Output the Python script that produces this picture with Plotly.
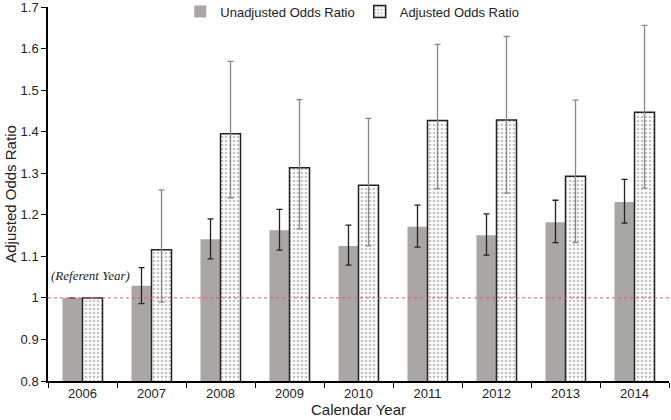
import plotly.graph_objects as go

years = ["2006", "2007", "2008", "2009", "2010", "2011", "2012", "2013", "2014"]
unadj = [1.0, 1.029, 1.141, 1.163, 1.125, 1.171, 1.151, 1.182, 1.231]
unadj_lo = [1.0, 0.986, 1.094, 1.115, 1.079, 1.122, 1.103, 1.133, 1.180]
unadj_hi = [1.0, 1.073, 1.190, 1.213, 1.175, 1.223, 1.202, 1.235, 1.285]
adj = [1.0, 1.116, 1.395, 1.313, 1.271, 1.427, 1.428, 1.293, 1.447]
adj_lo = [1.0, 0.990, 1.241, 1.166, 1.125, 1.263, 1.252, 1.133, 1.264]
adj_hi = [1.0, 1.260, 1.569, 1.477, 1.432, 1.610, 1.629, 1.476, 1.656]
y_ticks = [0.8, 0.9, 1.0, 1.1, 1.2, 1.3, 1.4, 1.5, 1.6, 1.7]
y_tick_labels = ["0.8", "0.9", "1", "1.1", "1.2", "1.3", "1.4", "1.5", "1.6", "1.7"]
referent = 1.0
referent_label = "(Referent Year)"

FONT = "Liberation Sans, Arial, sans-serif"

show_err = [y != years[0] for y in years]

def err(vals, lo, hi, color):
    return dict(type="data", symmetric=False,
                array=[(h - v) if s else None for v, h, s in zip(vals, hi, show_err)],
                arrayminus=[(v - l) if s else None for v, l, s in zip(vals, lo, show_err)],
                color=color, thickness=1.3, width=3)

fig = go.Figure()
fig.add_trace(go.Bar(
    x=years, y=unadj, name="Unadjusted Odds Ratio",
    marker=dict(color="#aba6a6", line=dict(width=0)),
    error_y=err(unadj, unadj_lo, unadj_hi, "#222222"),
))
fig.add_trace(go.Bar(
    x=years, y=adj, name="Adjusted Odds Ratio",
    marker=dict(color="white", line=dict(color="#222222", width=1.5),
                pattern=dict(shape=".", fgcolor="#888888", bgcolor="white", size=4, solidity=0.35)),
    error_y=err(adj, adj_lo, adj_hi, "#888888"),
))

fig.add_shape(type="line", xref="paper", x0=0, x1=1, yref="y", y0=referent, y1=referent,
              line=dict(color="#e05a5a", width=1, dash="dot"), layer="above")

fig.add_annotation(text="<i>" + referent_label + "</i>", xref="paper", x=0.002, xanchor="left",
                   yref="y", y=referent + 0.053, yanchor="middle", showarrow=False,
                   font=dict(family="Liberation Serif, Times New Roman, serif", size=13, color="#222222"))

fig.update_layout(
    width=671, height=420,
    margin=dict(l=48, r=2, t=7, b=39, autoexpand=False),
    paper_bgcolor="white", plot_bgcolor="white",
    barmode="group", bargap=0.42, bargroupgap=0,
    font=dict(family=FONT, size=13, color="#222222"),
    legend=dict(orientation="h", x=0.49, xanchor="center", y=1.028, yanchor="top",
                font=dict(family=FONT, size=13), itemwidth=30, bgcolor="rgba(0,0,0,0)",
                tracegroupgap=0),
    showlegend=True,
)
fig.update_xaxes(
    type="category", showline=True, linecolor="black", linewidth=1.5,
    ticks="outside", tickson="boundaries", ticklen=5, tickcolor="black",
    showgrid=False, automargin=False,
    title=dict(text="Calendar Year", font=dict(size=15), standoff=3),
    tickfont=dict(size=13),
)
fig.update_yaxes(
    range=[y_ticks[0], y_ticks[-1]], tickmode="array", tickvals=y_ticks, ticktext=y_tick_labels,
    showline=True, linecolor="black", linewidth=1.5,
    ticks="outside", ticklen=5, tickcolor="black", showgrid=False, zeroline=False,
    automargin=False, ticklabeloverflow="allow",
    title=dict(text="Adjusted Odds Ratio", font=dict(size=15), standoff=0),
    tickfont=dict(size=13),
)

fig.write_html("out.html", config={"displayModeBar": False},
               post_script="document.body.style.margin='0';document.body.style.padding='0';")
